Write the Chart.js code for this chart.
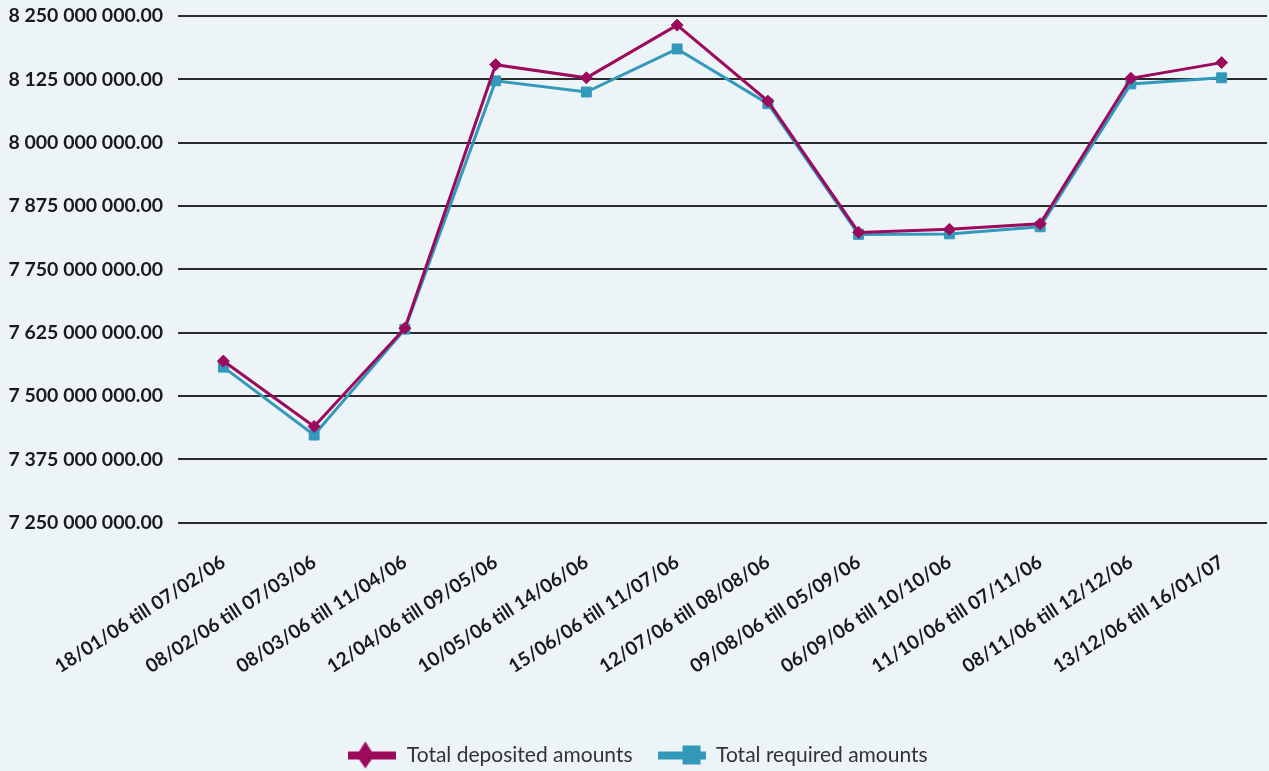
<!DOCTYPE html>
<html>
<head>
<meta charset="utf-8">
<script src="https://cdn.jsdelivr.net/npm/chart.js@4/dist/chart.umd.min.js"></script>
<style>
  html, body { margin: 0; padding: 0; background: #edf4f8; overflow: hidden; }
  #wrap { width: 1269px; height: 771px; }
  canvas { display: block; }
</style>
</head>
<body>
<div id="wrap"><canvas id="depositChart"></canvas></div>
<script>
// Reserve periods
const periods = [
  "18/01/06 till 07/02/06",
  "08/02/06 till 07/03/06",
  "08/03/06 till 11/04/06",
  "12/04/06 till 09/05/06",
  "10/05/06 till 14/06/06",
  "15/06/06 till 11/07/06",
  "12/07/06 till 08/08/06",
  "09/08/06 till 05/09/06",
  "06/09/06 till 10/10/06",
  "11/10/06 till 07/11/06",
  "08/11/06 till 12/12/06",
  "13/12/06 till 16/01/07"
];

// Amounts in millions
const depositedAmounts = [7569, 7440, 7634, 8154, 8128, 8232, 8082, 7823, 7829, 7840, 8127, 8158];
const requiredAmounts  = [7557, 7423, 7632, 8122, 8100, 8185, 8077, 7819, 7820, 7834, 8116, 8128];

const yMin = 7250, yMax = 8250, yStep = 125;

const purple = '#9c0a5b';
const blue = '#3399bb';

// Format 8250 -> "8 250 000 000.00"
function formatAmount(millions) {
  const s = Math.round(millions * 1e6).toString();
  return s.replace(/\B(?=(\d{3})+(?!\d))/g, ' ') + '.00';
}

// Legend swatch: thick bar with the marker on top of it
function makeSwatch(color, shape) {
  const c = document.createElement('canvas');
  c.width = 48;
  c.height = 30;
  const g = c.getContext('2d');
  g.fillStyle = color;
  g.fillRect(0, 11, 48, 8);
  g.beginPath();
  if (shape === 'diamond') {
    g.moveTo(17, 1);
    g.lineTo(26, 15);
    g.lineTo(17, 28);
    g.lineTo(8, 15);
  } else {
    g.rect(25, 5, 18, 19);
  }
  g.closePath();
  g.fill();
  return c;
}

const swatches = [makeSwatch(purple, 'diamond'), makeSwatch(blue, 'square')];

const ctx = document.getElementById('depositChart').getContext('2d');
new Chart(ctx, {
  type: 'line',
  data: {
    labels: periods,
    datasets: [
      {
        label: 'Total deposited amounts',
        data: depositedAmounts,
        borderColor: purple,
        backgroundColor: purple,
        borderWidth: 3,
        pointStyle: 'rectRot',
        pointRadius: 6,
        pointBorderWidth: 1,
        tension: 0
      },
      {
        label: 'Total required amounts',
        data: requiredAmounts,
        borderColor: blue,
        backgroundColor: blue,
        borderWidth: 3,
        pointStyle: 'rect',
        pointRadius: 7,
        pointBorderWidth: 1,
        tension: 0
      }
    ]
  },
  options: {
    responsive: true,
    maintainAspectRatio: false,
    animation: false,
    layout: { autoPadding: false, padding: { top: 16, left: 9, right: 2, bottom: -5 } },
    plugins: {
      tooltip: { enabled: false },
      legend: {
        position: 'bottom',
        labels: {
          usePointStyle: true,
          pointStyleWidth: 48,
          padding: 25,
          color: '#333333',
          font: { family: 'Lato', size: 21 },
          generateLabels: chart => chart.data.datasets.map((ds, i) => ({
            text: ds.label,
            pointStyle: swatches[i],
            fillStyle: ds.borderColor,
            strokeStyle: ds.borderColor,
            lineWidth: 0,
            fontColor: '#333333',
            datasetIndex: i
          }))
        }
      }
    },
    scales: {
      x: {
        offset: true,
        grid: { display: false, drawTicks: false },
        border: { display: false },
        afterFit: scale => {
          scale.height += 14;
          scale.paddingLeft = 0;
          scale.paddingRight = 0;
        },
        ticks: {
          color: '#1a1a1a',
          font: { family: 'Lato', size: 19, weight: 'bold' },
          minRotation: 33,
          maxRotation: 33,
          padding: 28,
          autoSkip: false
        }
      },
      y: {
        min: yMin,
        max: yMax,
        grid: { color: '#2b2b2b', lineWidth: 2, drawTicks: false },
        border: { display: false },
        afterFit: scale => {
          scale.width = 169;
          scale.paddingTop = 0;
          scale.paddingBottom = 0;
        },
        ticks: {
          stepSize: yStep,
          padding: 15,
          color: '#1a1a1a',
          font: { family: 'Lato', size: 19.5, weight: 'bold' },
          callback: v => formatAmount(v)
        }
      }
    }
  }
});
</script>
</body>
</html>
